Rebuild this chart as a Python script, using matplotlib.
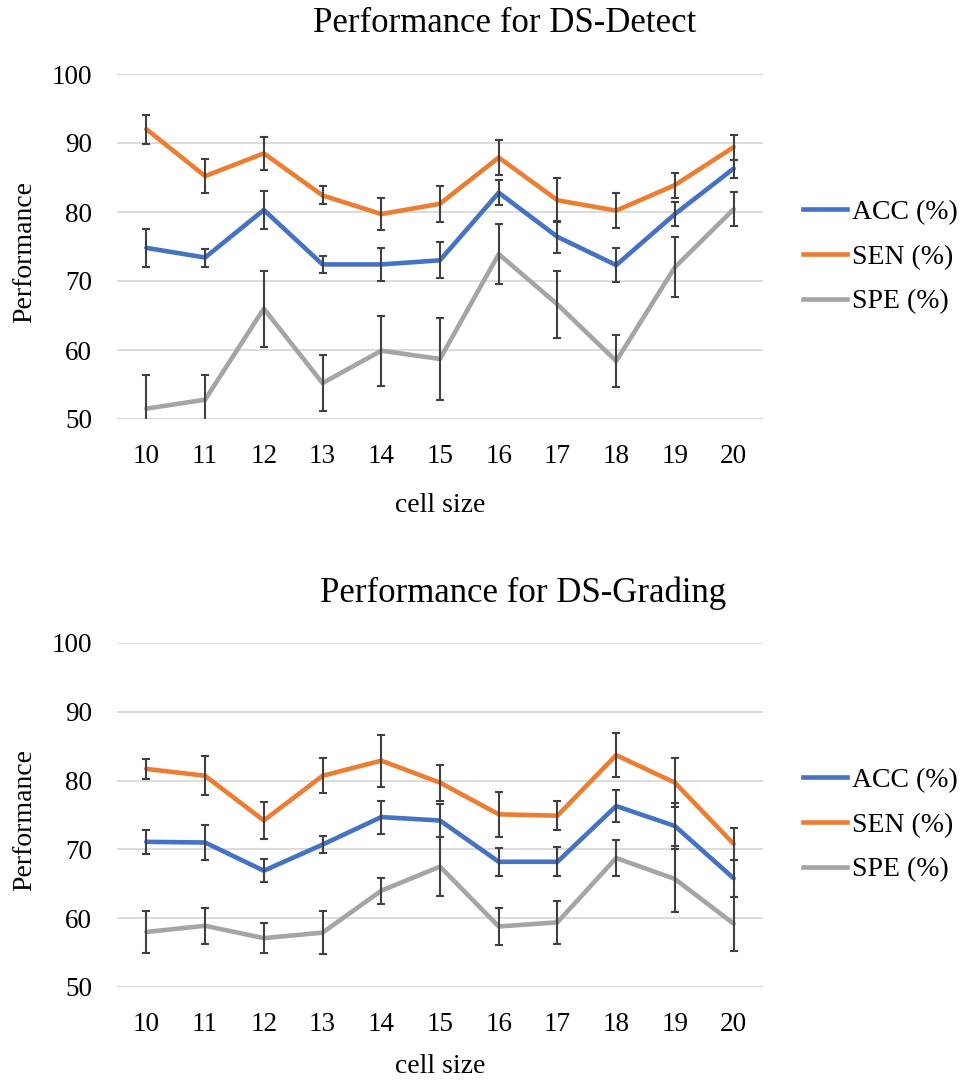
import matplotlib
matplotlib.use("Agg")
import matplotlib.pyplot as plt
from matplotlib.lines import Line2D

plt.rcParams['font.family'] = ['Liberation Serif', 'DejaVu Serif']

cell_sizes = ["10", "11", "12", "13", "14", "15", "16", "17", "18", "19", "20"]
series_names = ["ACC (%)", "SEN (%)", "SPE (%)"]
colors = ["#4472C4", "#ED7D31", "#A5A5A5"]

# DS-Detect
detect_acc = [74.8, 73.4, 80.3, 72.4, 72.4, 73.0, 82.8, 76.4, 72.3, 79.7, 86.3]
detect_acc_err = [2.8, 1.3, 2.7, 1.2, 2.4, 2.6, 1.8, 2.3, 2.5, 1.8, 1.3]
detect_sen = [92.0, 85.2, 88.5, 82.4, 79.7, 81.2, 87.9, 81.7, 80.2, 83.9, 89.4]
detect_sen_err = [2.1, 2.5, 2.4, 1.3, 2.3, 2.6, 2.6, 3.2, 2.5, 1.8, 1.8]
detect_spe = [51.5, 52.8, 66.0, 55.2, 59.9, 58.7, 73.9, 66.6, 58.4, 72.0, 80.4]
detect_spe_err = [4.9, 3.6, 5.5, 4.1, 5.1, 6.0, 4.4, 4.8, 3.8, 4.35, 2.5]

# DS-Grading
grading_acc = [71.1, 71.0, 66.9, 70.7, 74.7, 74.2, 68.2, 68.2, 76.3, 73.4, 65.8]
grading_acc_err = [1.7, 2.5, 1.65, 1.2, 2.4, 2.4, 2.0, 2.1, 2.35, 3.4, 2.7]
grading_sen = [81.7, 80.7, 74.2, 80.7, 82.9, 79.7, 75.1, 74.9, 83.7, 79.7, 70.8]
grading_sen_err = [1.5, 2.85, 2.7, 2.55, 3.8, 2.6, 3.3, 2.1, 3.15, 3.6, 2.3]
grading_spe = [58.0, 58.9, 57.1, 57.9, 64.0, 67.5, 58.8, 59.4, 68.75, 65.7, 59.2]
grading_spe_err = [3.1, 2.65, 2.2, 3.1, 1.9, 4.3, 2.7, 3.15, 2.65, 4.8, 3.9]

W, H = 960, 1082
fig = plt.figure(figsize=(W / 100, H / 100), dpi=100)


def draw(ax_rect, title, title_xy, ylabel_y, legend_y, xlabelpad, data):
    ax = fig.add_axes(ax_rect)
    x = list(range(len(cell_sizes)))
    for (vals, errs), c in zip(data, colors):
        ax.plot(x, vals, color=c, lw=3.3, solid_capstyle='round', zorder=3)
        ax.errorbar(x, vals, yerr=errs, fmt='none', ecolor='#404040',
                    elinewidth=1.5, capsize=3, capthick=1.5, zorder=4)
    ax.set_xlim(-0.5, len(cell_sizes) - 0.5)
    ax.set_ylim(50, 100)
    ax.set_yticks(range(50, 101, 10))
    ax.set_xticks(x)
    ax.set_xticklabels(cell_sizes)
    ax.grid(axis='y', color='#D9D9D9', lw=1.3)
    ax.set_axisbelow(True)
    for s in ax.spines.values():
        s.set_visible(False)
    ax.tick_params(length=0, labelsize=19.5)
    ax.tick_params(axis='x', pad=18)
    ax.tick_params(axis='y', pad=18)
    ax.set_xlabel("cell size", fontsize=20, labelpad=xlabelpad)
    fig.text(title_xy[0] / W, 1 - title_xy[1] / H, title, fontsize=25,
             ha='center', va='center')
    fig.text(25 / W, 1 - ylabel_y / H, "Performance", fontsize=20,
             rotation=90, ha='center', va='center')
    handles = [Line2D([0], [0], color=c, lw=3.3) for c in colors]
    fig.legend(handles, series_names, loc='center left',
               bbox_to_anchor=(803 / W, 1 - legend_y / H), frameon=False,
               fontsize=20, handlelength=1.6, handletextpad=0.15,
               labelspacing=0.7, borderpad=0, borderaxespad=0)
    return ax


draw([117 / W, 1 - 419 / H, 646 / W, 345 / H], "Performance for DS-Detect",
     (505, 24), 252, 257, 17,
     [(detect_acc, detect_acc_err), (detect_sen, detect_sen_err),
      (detect_spe, detect_spe_err)])
draw([117 / W, 1 - 987 / H, 646 / W, 344 / H], "Performance for DS-Grading",
     (523, 593), 820, 825, 12,
     [(grading_acc, grading_acc_err), (grading_sen, grading_sen_err),
      (grading_spe, grading_spe_err)])

fig.savefig("out.png", dpi=100, facecolor='white')
